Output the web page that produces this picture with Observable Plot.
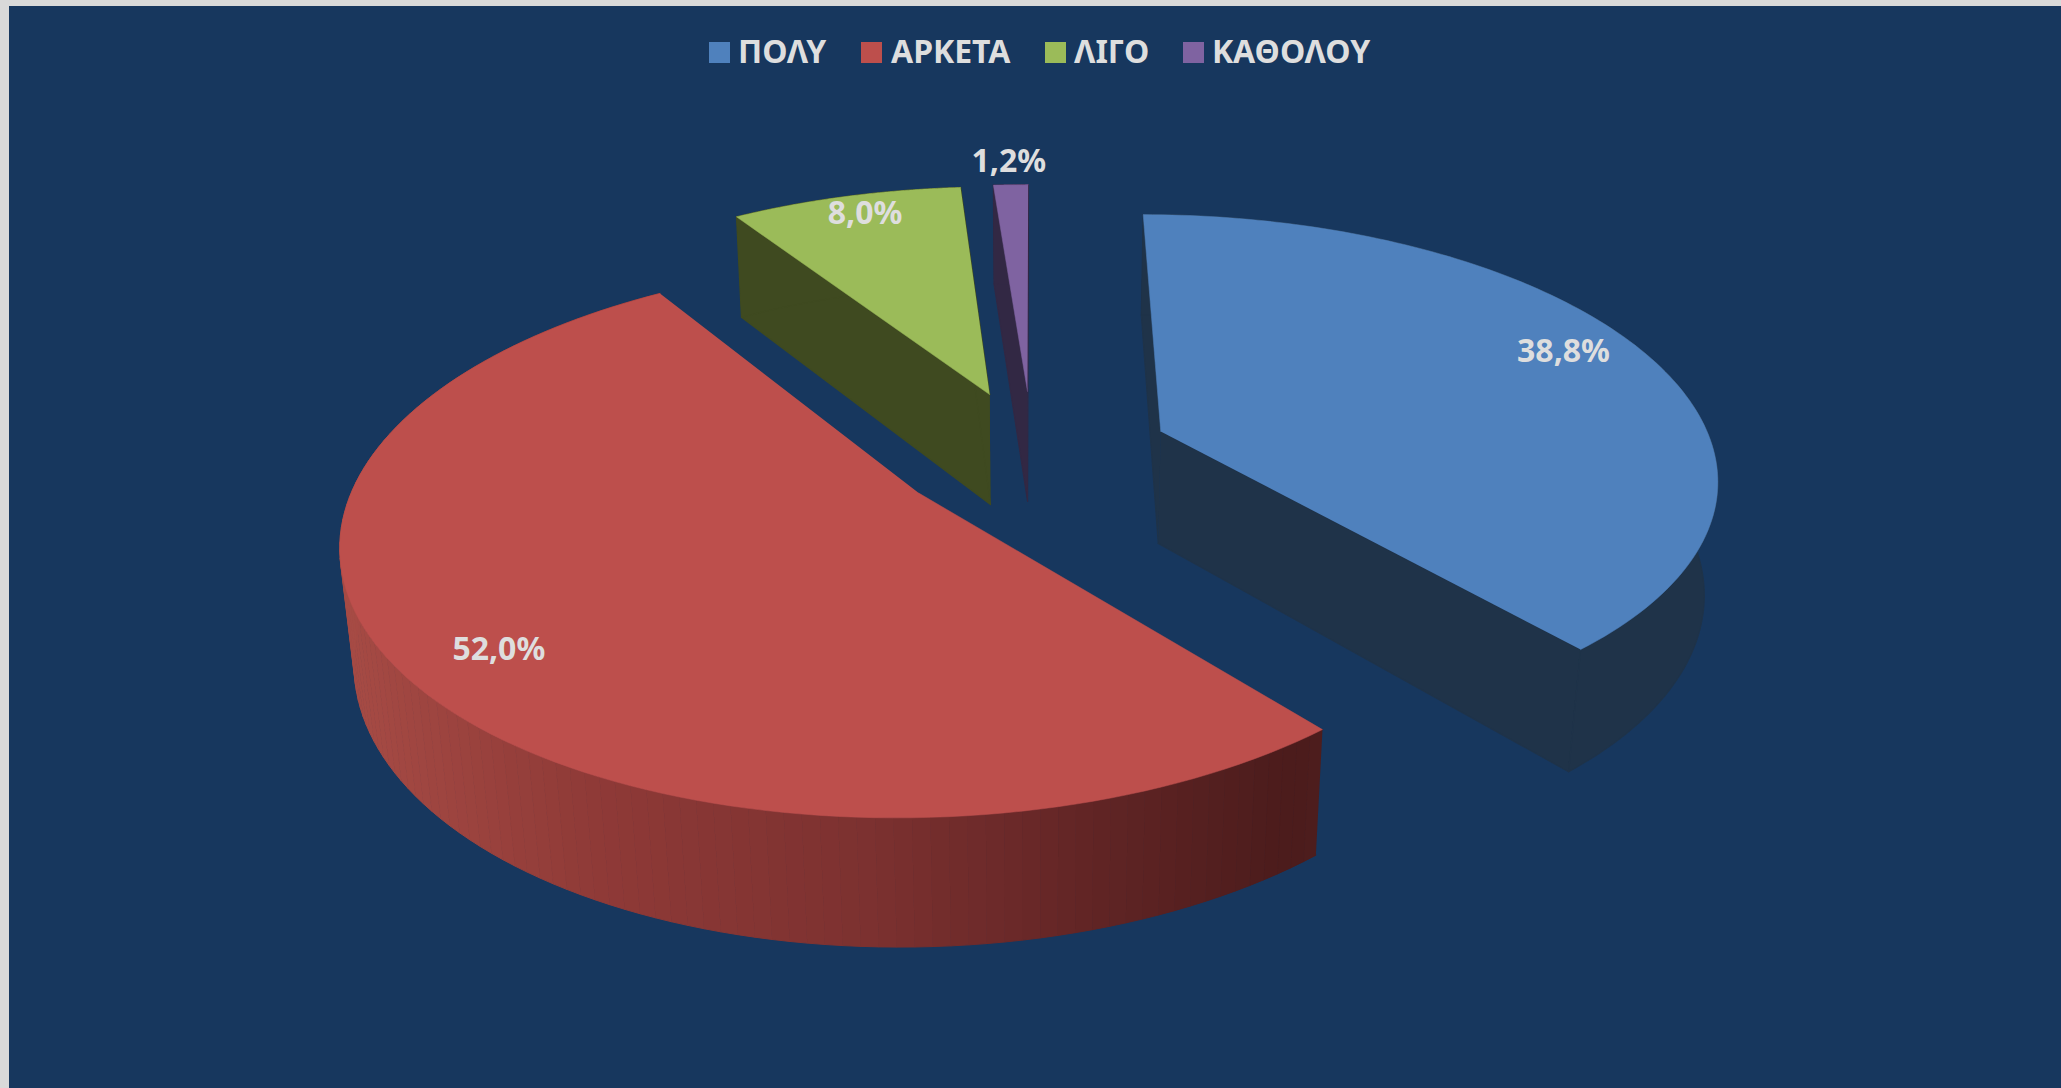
<!DOCTYPE html>
<html>
<head>
<meta charset="utf-8">
<script src="https://cdn.jsdelivr.net/npm/d3@7"></script>
<script src="https://cdn.jsdelivr.net/npm/@observablehq/plot@0.6"></script>
<style>
  html, body { margin: 0; padding: 0; background: #d9d9d9; width: 2061px; height: 1088px; overflow: hidden; }
  #slide { position: absolute; left: 9px; top: 6px; width: 2052px; height: 1082px; background: #17375e; font-family: "Noto Sans", sans-serif; }
  #legend { position: relative; height: 84px; }
  #legend .sw { position: absolute; top: 36px; width: 21px; height: 21px; }
  #legend .tx { position: absolute; top: 23px; font-size: 32px; line-height: 44px; font-weight: 700; color: #dedede; white-space: nowrap; transform-origin: left center; }
  #chart svg { display: block; }
</style>
</head>
<body>
<div id="slide">
  <div id="legend"></div>
  <div id="chart"></div>
</div>
<script>
// Data
const categories = ["ΠΟΛΥ", "ΑΡΚΕΤΑ", "ΛΙΓΟ", "ΚΑΘΟΛΟΥ"];
const shares = [38.8, 52.0, 8.0, 1.2];
const valueLabels = ["38,8%", "52,0%", "8,0%", "1,2%"];

// Styling
const topColors = ["#4f81bd", "#bd4f4c", "#9bbb59", "#7f63a1"];
const wallColors = ["#1f3349", null, "#3f4a20", "#322844"];
const labelRadius = [0.862, 0.84, 0.905, 1.14];
const labelTurn = [-3.4, -1.6, 1, 0];
const swatchLeft = [700, 852, 1036, 1174];
const textLeft = [729, 882, 1065, 1203];
const bg = "#17375e";

// 3-D pie geometry (units: pie radius)
const tilt = 27.8 * Math.PI / 180, camera = 5.5, depthZ = 0.235, explode = 0.25;
const project = (X, Y, Z) => {
  const k = camera / (camera - Y * Math.cos(tilt) - Z * Math.sin(tilt));
  return {x: X * k, y: (Y * Math.sin(tilt) - Z * Math.cos(tilt)) * k};
};
const point = (mid, a, r, Z) => project(
  explode * Math.sin(mid) + r * Math.sin(a),
  -(explode * Math.cos(mid) + r * Math.cos(a)),
  Z
);

let acc = 0;
const slices = shares.map((v, i) => {
  const a0 = acc / 100 * 2 * Math.PI; acc += v;
  const a1 = acc / 100 * 2 * Math.PI;
  return {i, a0, a1, mid: (a0 + a1) / 2};
});
const arc = (s, Z) => d3.range(0, 121).map(t => point(s.mid, s.a0 + (s.a1 - s.a0) * t / 120, 1, Z));

const face = s => [point(s.mid, 0, 0, 0), ...arc(s, 0)];
const sideFaces = s => {
  const apexT = point(s.mid, 0, 0, 0), apexB = point(s.mid, 0, 0, -depthZ);
  const t = arc(s, 0), b = arc(s, -depthZ);
  return [
    [apexT, t[0], b[0], apexB],
    [apexT, t[120], b[120], apexB],
    [...t, ...b.slice().reverse()]
  ];
};

const poly = (pts, fill, sw = 0.5) => Plot.line(pts, {x: "x", y: "y", fill, stroke: fill, strokeWidth: sw, curve: "linear"});

// Red rim as narrow strips, shaded along x
const red = slices[1];
const redT = arc(red, 0), redB = arc(red, -depthZ);
const strips = d3.range(120).flatMap(k => {
  const shade = (redT[k].x + redT[k + 1].x) / 2;
  return [redT[k], redT[k + 1], redB[k + 1], redB[k]].map(p => ({...p, k, shade}));
});

const marks = [];
for (const i of [3, 2, 0, 1]) {
  const s = slices[i];
  if (i === 1) {
    marks.push(Plot.line(strips, {x: "x", y: "y", z: "k", fill: "shade", stroke: "shade", strokeWidth: 1, curve: "linear"}));
  } else {
    for (const f of sideFaces(s)) marks.push(poly(f, wallColors[i], 1.2));
  }
  marks.push(poly(face(s), topColors[i]));
}
const labelRows = slices.map(s => ({
  ...point(s.mid, s.mid + labelTurn[s.i] * Math.PI / 180, labelRadius[s.i], 0),
  text: valueLabels[s.i]
}));
marks.push(Plot.text(labelRows, {
  x: "x", y: "y", text: "text", fill: "#dedede", fontSize: 32, fontWeight: 700,
  fontFamily: "'Noto Sans', sans-serif", textAnchor: "middle", lineAnchor: "middle", dy: 2
}));

const cxPix = 1023, cyPix = 363, unit = 554;
const chart = Plot.plot({
  width: 2052, height: 998,
  marginTop: 0, marginRight: 0, marginBottom: 0, marginLeft: 0,
  style: {background: bg},
  x: {domain: [-1, 1], range: [cxPix - unit, cxPix + unit], axis: null},
  y: {domain: [-1, 1], range: [cyPix - unit, cyPix + unit], axis: null},
  color: {
    type: "linear",
    domain: [-1.23, -0.8, -0.3, 0.1, 0.45, 0.7],
    range: ["#a54a44", "#8f3a37", "#7c3130", "#622525", "#4c1c1c", "#4f1f1f"]
  },
  marks
});
document.getElementById("chart").appendChild(chart);

// Legend
const legend = document.getElementById("legend");
categories.forEach((c, i) => {
  const sw = document.createElement("div");
  sw.className = "sw"; sw.style.left = swatchLeft[i] + "px"; sw.style.background = topColors[i];
  const tx = document.createElement("div");
  tx.className = "tx"; tx.style.left = textLeft[i] + "px"; tx.textContent = c;
  legend.append(sw, tx);
});
</script>
</body>
</html>
